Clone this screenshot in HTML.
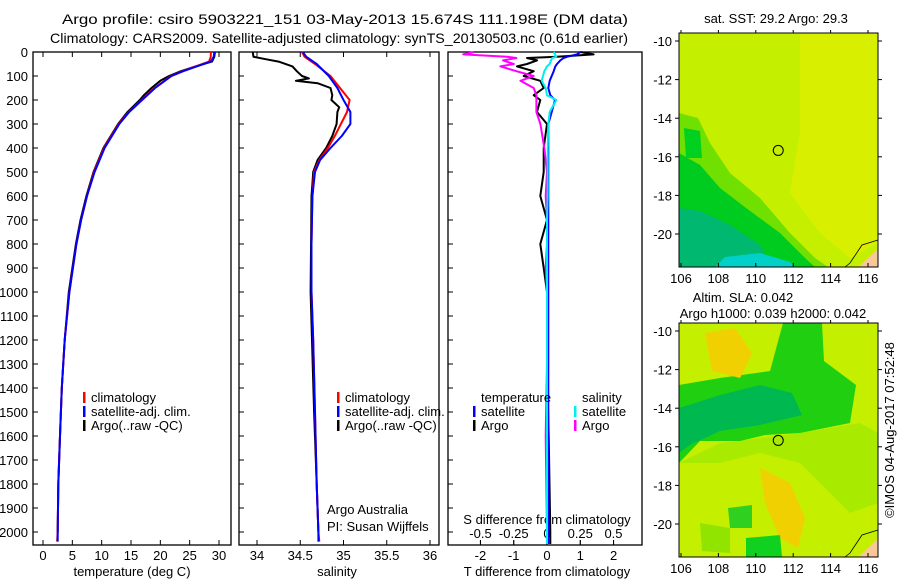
<!DOCTYPE html>
<html><head><meta charset="utf-8"><style>
body{margin:0;background:#fff}
svg text{font-family:"Liberation Sans",sans-serif;font-size:13px;fill:#000}
</style></head><body>
<svg id="s" width="900" height="580" viewBox="0 0 900 580" xmlns="http://www.w3.org/2000/svg">
<text x="62" y="24" textLength="566" lengthAdjust="spacingAndGlyphs" style="font-size:14px">Argo profile: csiro 5903221_151 03-May-2013 15.674S 111.198E (DM data)</text>
<text x="50" y="43" textLength="578" lengthAdjust="spacingAndGlyphs" style="font-size:14px">Climatology: CARS2009. Satellite-adjusted climatology: synTS_20130503.nc (0.61d earlier)</text>
<g id="maps"></g>
<g id="plots"></g>
<text x="894" y="430" text-anchor="middle" transform="rotate(-90 894 430)">©IMOS 04-Aug-2017 07:52:48</text>
</svg>
<script>
// ---------- data ----------
const depthTicks=[0,100,200,300,400,500,600,700,800,900,1000,1100,1200,1300,1400,1500,1600,1700,1800,1900,2000];
const tempTicks=[0,5,10,15,20,25,30];
const salTicks=[34,34.5,35,35.5,36];
const tdiffTicks=[-2,-1,0,1,2];
const sdiffTicks=[-0.5,-0.25,0,0.25,0.5];
const lonTicks=[106,108,110,112,114,116];
const latTicks=[-10,-12,-14,-16,-18,-20];

const tClimDepth=[0,20,40,60,80,100,150,200,250,300,400,500,600,700,800,1000,1200,1400,1600,1800,2000,2040];
const tClim=[28.6,28.6,28.3,26,23.8,21.8,19,16.8,14.6,12.9,10.4,8.7,7.5,6.5,5.7,4.5,3.7,3.2,2.9,2.6,2.5,2.4];
const tSat=[29.2,29.1,28.6,26.2,23.9,21.9,19.1,16.9,14.7,13,10.5,8.8,7.5,6.5,5.7,4.5,3.7,3.2,2.9,2.6,2.5,2.5];
const tArgoDepth=[0,20,40,60,80,100,120,150,180,200,250,300,400,500,600,700,800,1000,1200,1400,1600,1800,2000];
const tArgo=[29.3,29.2,28.8,26,23.5,21.5,20,18.5,17.2,16.5,14.4,12.8,10.3,8.6,7.4,6.4,5.6,4.4,3.7,3.2,2.9,2.6,2.5];

const sClimDepth=[0,20,50,100,150,200,250,300,350,400,450,500,600,800,1000,1200,1500,1800,2000,2040];
const sClim=[34.52,34.55,34.67,34.85,34.96,35.07,35.04,34.97,34.9,34.82,34.72,34.66,34.64,34.63,34.63,34.65,34.67,34.69,34.71,34.72];
const sSat=[34.53,34.57,34.69,34.83,34.93,35.0,35.08,35.08,34.98,34.85,34.73,34.67,34.64,34.63,34.63,34.65,34.67,34.69,34.71,34.71];
const sArgoDepth=[0,20,30,40,60,80,100,110,120,130,150,180,200,230,250,300,350,400,450,500,550,600,1000,1500,2000];
const sArgo=[33.95,33.96,34.1,34.25,34.41,34.46,34.52,34.6,34.45,34.7,34.85,34.87,34.86,34.95,34.93,34.92,34.87,34.8,34.7,34.65,34.64,34.63,34.62,34.66,34.71];

const dDepth=[0,10,20,25,35,50,60,80,100,120,150,180,200,250,300,400,500,600,700,800,900,1000,1300,1600,2000,2050];
const tdArgo=[1.0,1.4,0.3,-0.6,-0.3,-0.6,-0.9,-0.4,-0.7,-0.2,-0.1,-0.4,-0.2,-0.3,0,-0.1,-0.1,-0.2,0,-0.2,-0.1,0,0,0.05,0.1,0.1];
const tdSat=[1.0,0.9,0.6,0.5,0.4,0.3,0.25,0.2,0.14,0.08,0.04,0.1,0.24,0.14,0.04,0.04,0.04,0.04,0.04,0.04,0.04,0.04,0.04,0.04,0.04,0.04];
const sdArgo=[-0.55,-0.63,-0.3,-0.23,-0.33,-0.25,-0.35,-0.23,-0.1,-0.2,-0.1,-0.08,-0.08,-0.08,-0.05,-0.02,0,-0.01,0,0,-0.01,0,0,-0.01,0,0];
const sdCyan=[0.05,0.06,0.07,0.04,0.03,0.02,0,-0.02,-0.03,-0.04,-0.01,0,0.07,0.02,0.01,0.005,0.005,0.005,0,0,0,0,0,0,0,0];

const argoLon=[111.2], argoLat=[-15.67];

// ---------- helpers ----------
const NS="http://www.w3.org/2000/svg";
function mk(tag,parent,attrs){const e=document.createElementNS(NS,tag);for(const k in attrs)e.setAttribute(k,attrs[k]);parent.appendChild(e);return e;}
const plots=document.getElementById('plots');
const yD=d=>52+d*0.24;
const P=[
 {x0:33,x1:231,f:v=>43+(v-0)*(176/30)},
 {x0:239,x1:439,f:v=>257+(v-34)*(173/2)},
 {x0:448,x1:642,f:v=>547+v*33.3},
];
const fS=v=>547+v*133;

P.forEach((p,i)=>{
 const r=mk('rect',plots,{x:p.x0,y:52,width:p.x1-p.x0,height:493,fill:'none',stroke:'#000','stroke-width':1.3});
 
 
 depthTicks.forEach(d=>{
  const t=mk('line',plots,{x1:p.x0,x2:p.x0+5,y1:yD(d),y2:yD(d),stroke:'#000'});
  
  
 });
});
depthTicks.forEach(d=>{
 const t=mk('text',plots,{x:28,y:yD(d)+5,'text-anchor':'end'});t.textContent=d;
 
 
});
function xticks(p,ticks,f,labY,top){
 ticks.forEach(v=>{
  const x=f(v);
  const l=mk('line',plots,{x1:x,x2:x,y1:545,y2:540,stroke:'#000'});
  
  
  if(top){const l2=mk('line',plots,{x1:x,x2:x,y1:52,y2:57,stroke:'#000'});
  
  }
  const t=mk('text',plots,{x:x,y:labY,'text-anchor':'middle'});t.textContent=v;
  
  
 });
}
xticks(P[0],tempTicks,P[0].f,560,true);
xticks(P[1],salTicks,P[1].f,560,true);
xticks(P[2],tdiffTicks,P[2].f,560,false);
sdiffTicks.forEach(v=>{
 const x=fS(v);
 const l=mk('line',plots,{x1:x,x2:x,y1:545,y2:540,stroke:'#000'});
 
 
 const t=mk('text',plots,{x:x,y:538,'text-anchor':'middle'});t.textContent=v;
 
 
});
function lab(x,y,s,name,anchor){const t=mk('text',plots,{x:x,y:y,'text-anchor':anchor||'middle'});t.textContent=s;
 
 }
lab(132,576,'temperature (deg C)','x-axis-title-temperature');
lab(337,576,'salinity','x-axis-title-salinity');
lab(547,576,'T difference from climatology','x-axis-title-tdiff');
lab(547,524,'S difference from climatology','x-axis-title-sdiff');
lab(327,514,'Argo Australia','credit-line-1','start');
lab(327,531,'PI: Susan Wijffels','credit-line-2','start');

function line(xs,ds,f,color,w,name){
 const pts=xs.map((v,i)=>f(v).toFixed(1)+','+yD(ds[i]).toFixed(1)).join(' ');
 const l=mk('polyline',plots,{points:pts,fill:'none',stroke:color,'stroke-width':w,'stroke-linejoin':'round'});
 
 
}
line(tArgo,tArgoDepth,P[0].f,'#000',2,'temp-argo-line');
line(tClim,tClimDepth,P[0].f,'#f00',2,'temp-climatology-line');
line(tSat,tClimDepth,P[0].f,'#00f',2,'temp-satellite-line');
line(sArgo,sArgoDepth,P[1].f,'#000',2,'sal-argo-line');
line(sClim,sClimDepth,P[1].f,'#f00',2,'sal-climatology-line');
line(sSat,sClimDepth,P[1].f,'#00f',2,'sal-satellite-line');
line(tdArgo,dDepth,P[2].f,'#000',2,'tdiff-argo-line');
line(sdArgo,dDepth,fS,'#f0f',2,'sdiff-argo-line');
line(tdSat,dDepth,P[2].f,'#00f',2,'tdiff-satellite-line');
line(sdCyan,dDepth,fS,'#0ee',2,'sdiff-satellite-line');

function legend(x,y,color,text,name){
 const r=mk('rect',plots,{x:x,y:y-10,width:2.5,height:11,fill:color});
 
 
 const t=mk('text',plots,{x:x+8,y:y});t.textContent=text;
 
 
}
[0,1].forEach(i=>{
 const bx=i==0?83:337;
 legend(bx,402,'#f00','climatology','legend-climatology');
 legend(bx,416,'#00f','satellite-adj. clim.','legend-satellite');
 legend(bx,430,'#000','Argo(..raw -QC)','legend-argo');
});
lab(481,402,'temperature','legend-temp-header','start');
lab(582,402,'salinity','legend-sal-header','start');
legend(473,416,'#00f','satellite','legend-tdiff-satellite');
legend(473,430,'#000','Argo','legend-tdiff-argo');
legend(574,416,'#0ee','satellite','legend-sdiff-satellite');
legend(574,430,'#f0f','Argo','legend-sdiff-argo');

// ---------- maps ----------
const maps=document.getElementById('maps');
const lonX=l=>681+(l-106)*18.7;
function map(y0,title1,title2,base,blobs,name){
 const g=mk('g',maps,{});
 
 
 const latY=l=>y0+8+(-10-l)*19.3;
 mk('rect',g,{x:679,y:y0,width:199,height:234,fill:base});
 blobs.forEach(b=>mk('path',g,{d:b[0],fill:b[1],transform:`translate(0 ${y0})`}));
 mk('path',g,{d:'M878 216 L858 234 L878 234 Z',fill:'#f8c898',transform:`translate(0 ${y0})`});
 mk('path',g,{d:'M878 207 L862 212 L850 230 L845 234',fill:'none',stroke:'#000','stroke-width':0.8,transform:`translate(0 ${y0})`});
 mk('rect',g,{x:679,y:y0,width:199,height:234,fill:'none',stroke:'#000'});
 const c=mk('circle',g,{cx:lonX(argoLon[0]),cy:latY(argoLat[0]),r:5,fill:'none',stroke:'#000'});
 
 
 lonTicks.forEach(l=>{
  mk('line',g,{x1:lonX(l),x2:lonX(l),y1:y0+234,y2:y0+230,stroke:'#000'});
  mk('line',g,{x1:lonX(l),x2:lonX(l),y1:y0,y2:y0-3,stroke:'#000'});
  const t=mk('text',g,{x:lonX(l),y:y0+250,'text-anchor':'middle'});t.textContent=l;
  
  
 });
 latTicks.forEach(l=>{
  mk('line',g,{x1:679,x2:675,y1:latY(l),y2:latY(l),stroke:'#000'});
  mk('line',g,{x1:878,x2:882,y1:latY(l),y2:latY(l),stroke:'#000'});
  const t=mk('text',g,{x:672,y:latY(l)+5,'text-anchor':'end'});t.textContent=l;
  
  
 });
 if(title2){const t=mk('text',g,{x:743,y:y0-21,'text-anchor':'middle'});t.textContent=title1;
  
  
  const t2=mk('text',g,{x:773,y:y0-5,'text-anchor':'middle'});t2.textContent=title2;
  
  }
 else{const t=mk('text',g,{x:776,y:y0-10,'text-anchor':'middle'});t.textContent=title1;
  
  }
}
map(33,'sat. SST: 29.2 Argo: 29.3',null,'#c4f000',[
 ['M800 0 L878 0 L878 210 L850 225 L820 200 L790 160 L800 100 Z','#d8f000'],
 ['M679 80 L698 85 L710 110 L730 140 L760 165 L790 200 L815 225 L828 234 L679 234 Z','#70e000'],
 ['M679 120 L700 132 L720 155 L750 178 L780 200 L805 225 L815 234 L679 234 Z','#00cc20'],
 ['M679 175 L700 178 L730 192 L760 212 L772 234 L679 234 Z','#00b870'],
 ['M725 224 L760 220 L790 229 L795 234 L715 234 Z','#00d0c8'],
 ['M684 95 L700 98 L702 125 L686 125 Z','#00d020']
],'sst-map');
map(323,'Altim. SLA: 0.042','Argo h1000: 0.039 h2000: 0.042','#c4f000',[
 ['M679 140 L720 120 L800 110 L860 100 L878 110 L878 180 L850 190 L800 140 L760 130 L720 140 Z','#a8ea00'],
 ['M679 62 L720 55 L770 48 L783 0 L822 0 L824 38 L856 62 L850 100 L800 110 L765 112 L740 118 L700 118 L679 140 Z','#20d010'],
 ['M679 85 L720 72 L760 62 L792 70 L802 92 L760 102 L720 108 L690 122 L679 130 Z','#00b850'],
 ['M705 10 L735 5 L752 30 L740 55 L712 48 Z','#f0d000'],
 ['M760 145 L790 160 L805 195 L798 225 L780 215 L765 180 Z','#f0d000'],
 ['M728 185 L752 182 L752 205 L730 205 Z','#30d020'],
 ['M746 215 L780 212 L782 234 L746 234 Z','#10d020'],
 ['M700 200 L730 205 L730 230 L702 228 Z','#90e400']
],'sla-map');
</script>
</body></html>
